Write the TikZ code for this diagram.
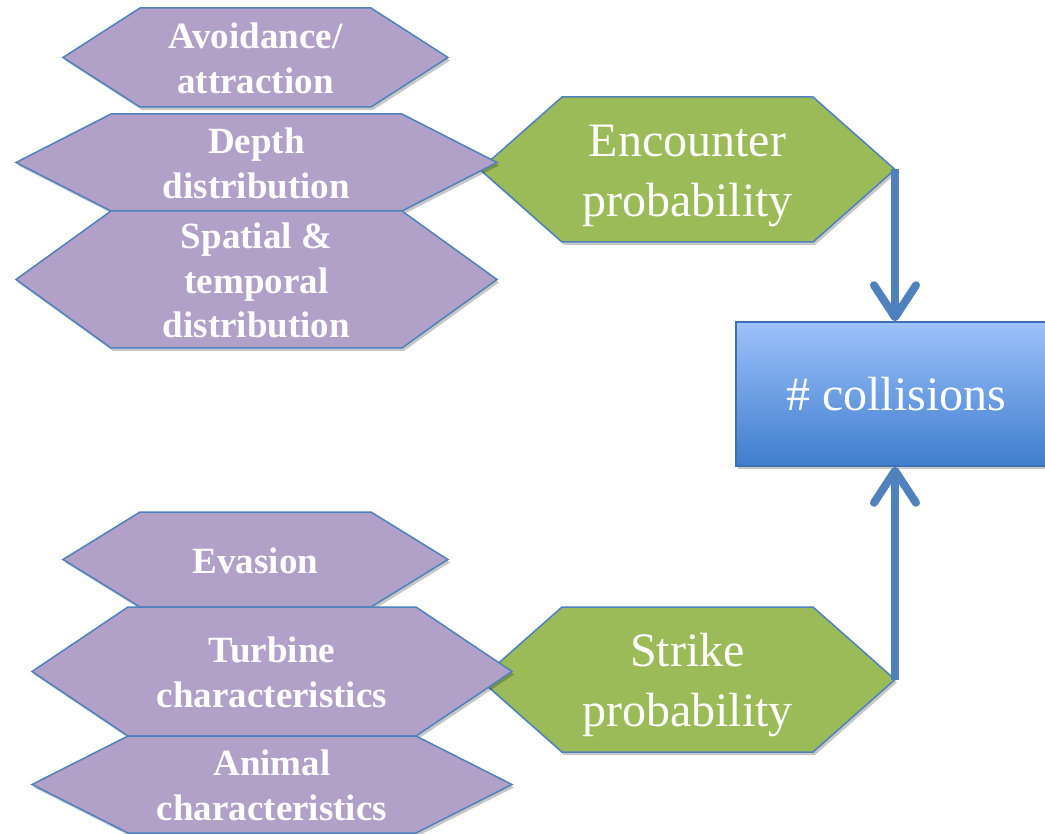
\documentclass[tikz,border=0pt]{standalone}
\usepackage{fontspec}
\setmainfont{Liberation Serif}
\usetikzlibrary{arrows.meta,shadows}

\definecolor{lilac}{HTML}{B1A0C7}
\definecolor{leaf}{HTML}{9BBB59}
\definecolor{edgeblue}{HTML}{4F81BD}
\definecolor{boxtop}{RGB}{157,193,252}
\definecolor{boxbottom}{RGB}{62,125,204}
\definecolor{boxedge}{RGB}{62,112,178}

% hexagon: name, shape style, text style, left x, right x, inset, top y, bottom y, text
\newcommand\hexa[9]{%
  \pgfmathsetmacro\hexmid{(#7+#8)/2}%
  \pgfmathsetmacro\hexcx{(#4+#5)/2}%
  \path[#2] (#4,\hexmid) -- ({#4+#6},#7) -- ({#5-#6},#7) -- (#5,\hexmid)
            -- ({#5-#6},#8) -- ({#4+#6},#8) -- cycle;
  \node[#3] (#1) at (\hexcx,\hexmid) {#9};
  \coordinate (#1-e) at (#5,\hexmid);
}

\tikzset{
  hexshadow/.style={drop shadow={shadow xshift=2pt,shadow yshift=-3pt,fill=black,opacity=0.22}},
  factor/.style={fill=lilac,draw=edgeblue,line width=1.5pt,line join=miter,hexshadow},
  outcome/.style={fill=leaf,draw=edgeblue,line width=1.5pt,line join=miter,hexshadow},
  factortext/.style={text=white,align=center,inner sep=0pt,yshift=-1pt,
    font=\fontsize{37}{44.5}\selectfont\bfseries},
  outcometext/.style={text=white,align=center,inner sep=0pt,yshift=-6pt,
    font=\fontsize{48}{60}\selectfont},
  total/.style={draw=boxedge,line width=1.5pt,top color=boxtop,bottom color=boxbottom,
    minimum width=320pt,minimum height=144pt,inner sep=0pt,text=white,
    font=\fontsize{48}{58}\selectfont,
    drop shadow={shadow xshift=2pt,shadow yshift=-3pt,fill=black,opacity=0.22}},
  flow/.style={draw=edgeblue,line width=8pt,
    -{Straight Barb[length=32pt,width=42pt,round]}}
}

\begin{document}
\begin{tikzpicture}[x=1pt,y=-1pt]
  \clip (0,0) rectangle (1045,834);
  \fill[white] (0,0) rectangle (1045,834);

  % the two probabilities
  \hexa{enc}{outcome}{outcometext}{480}{895}{82}{97}{242}{Encounter\\probability}
  \hexa{strike}{outcome}{outcometext}{480}{895}{82}{607}{752}{Strike\\probability}

  % factors behind the encounter probability
  \hexa{avoid}{factor}{factortext}{63}{448}{77}{8}{107}{Avoidance/\\attraction}
  \hexa{depth}{factor}{factortext}{16}{497}{95}{114}{211}{Depth\\distribution}
  \hexa{spatial}{factor}{factortext}{16}{497}{95}{211}{348}{Spatial \&\\temporal\\distribution}

  % factors behind the strike probability
  \hexa{evas}{factor}{factortext}{63}{448}{77}{512}{607}{Evasion}
  \hexa{turb}{factor}{factortext}{32}{512}{96}{607}{736}{Turbine\\characteristics}
  \hexa{anim}{factor}{factortext}{32}{512}{96}{736}{833}{Animal\\characteristics}

  % result
  \node[total] (coll) at (896,394) {\# collisions};

  \draw[flow] (enc-e) -- (enc-e |- coll.north);
  \draw[flow] (strike-e) -- (strike-e |- coll.south);
\end{tikzpicture}
\end{document}
